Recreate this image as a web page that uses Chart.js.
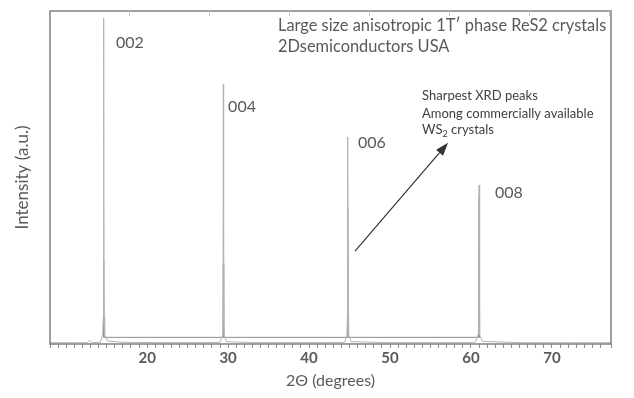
<!DOCTYPE html>
<html>
<head>
<meta charset="utf-8">
<script src="https://cdn.jsdelivr.net/npm/chart.js@4"></script>
<style>
    html, body { margin: 0; padding: 0; background: #fff; }
    #wrap { width: 634px; height: 398px; }
</style>
</head>
<body>
<div id="wrap"><canvas id="xrdChart" width="634" height="398"></canvas></div>
<script>
// XRD scan (2theta in degrees, intensity in arbitrary units 0-100)
const twoTheta = [8, 11, 12.6, 12.9, 13.2, 14.2, 14.5, 14.58, 14.63, 14.68, 14.76, 15.1, 17, 22, 27, 29.0, 29.3, 29.37, 29.41, 29.45, 29.52, 29.8, 33, 38, 42, 44.4, 44.67, 44.74, 44.78, 44.82, 44.89, 45.2, 50, 56, 60.3, 60.6, 60.89, 60.96, 61.0, 61.04, 61.11, 61.4, 66, 72, 77.3];
const intensity = [0.4, 0.4, 0.4, 1.1, 0.4, 0.5, 2.8, 8, 97.9, 8, 2.8, 0.9, 0.5, 0.4, 0.4, 0.5, 2.6, 8, 78.1, 8, 2.6, 0.7, 0.4, 0.4, 0.4, 0.5, 2.6, 8, 62.2, 8, 2.6, 0.7, 0.4, 0.4, 0.4, 0.7, 3.0, 8, 47.7, 8, 3.0, 0.8, 0.4, 0.4, 0.4];

// darker inner component of each reflection
const innerTheta = [14.58, 14.63, 14.68, 29.36, 29.41, 29.46, 44.73, 44.78, 44.83, 60.95, 61.0, 61.05];
const innerIntensity = [2, 25, 2, 2, 24, 2, 2, 41, 2, 2, 44, 2];

const xTickLabels = [20, 30, 40, 50, 60, 70];
const topTicks = [0, 1, 2, 3, 4, 5, 6];

// peak labels, placed in data units
const peakNames = ['002', '004', '006', '008'];
const peakLabelX = [16.15, 30.0, 46.05, 62.97];
const peakLabelY = [90.4, 71.2, 60.4, 45.3];

const titleLines = ['Large size anisotropic 1T\u2032 phase ReS2 crystals', '2Dsemiconductors USA'];
const noteLines = ['Sharpest XRD peaks', 'Among commercially available'];

const arrowFrom = [45.68, 27.9];
const arrowTo = [57.17, 60.4];

const FONT = 'Lato, "Open Sans", sans-serif';

const extras = {
    id: 'extras',
    afterDraw(chart) {
        const ctx = chart.ctx;
        const a = chart.chartArea;
        const x = chart.scales.x, y = chart.scales.y, top = chart.scales.x2;
        ctx.save();

        // frame
        ctx.strokeStyle = '#7f7f7f';
        ctx.lineWidth = 1.5;
        ctx.strokeRect(a.left, a.top, a.right - a.left, a.bottom - a.top);

        // small inward ticks on the top edge
        ctx.strokeStyle = '#c8c8c8';
        ctx.lineWidth = 1;
        topTicks.forEach(v => {
            const px = Math.round(top.getPixelForValue(v)) + 0.5;
            ctx.beginPath();
            ctx.moveTo(px, a.top);
            ctx.lineTo(px, a.top + 5);
            ctx.stroke();
        });

        // title
        ctx.fillStyle = '#595959';
        ctx.textBaseline = 'middle';
        ctx.textAlign = 'left';
        ctx.font = '16.4px ' + FONT;
        ctx.fillText(titleLines[0], 278, 26);
        ctx.fillText(titleLines[1], 278, 47);

        // peak labels
        ctx.font = '16px ' + FONT;
        peakNames.forEach((n, i) => {
            ctx.fillText(n, x.getPixelForValue(peakLabelX[i]), y.getPixelForValue(peakLabelY[i]));
        });

        // note
        ctx.fillStyle = '#404040';
        ctx.font = '13px ' + FONT;
        ctx.fillText(noteLines[0], 422, 96);
        ctx.fillText(noteLines[1], 422, 114);
        let tx = 422;
        ctx.fillText('WS', tx, 130);
        tx += ctx.measureText('WS').width;
        ctx.font = '9px ' + FONT;
        ctx.fillText('2', tx, 134);
        tx += ctx.measureText('2').width;
        ctx.font = '13px ' + FONT;
        ctx.fillText(' crystals', tx, 130);

        // arrow
        const x0 = x.getPixelForValue(arrowFrom[0]), y0 = y.getPixelForValue(arrowFrom[1]);
        const x1 = x.getPixelForValue(arrowTo[0]), y1 = y.getPixelForValue(arrowTo[1]);
        const ang = Math.atan2(y1 - y0, x1 - x0);
        const hl = 13, hw = 4.5;
        const bx = x1 - hl * Math.cos(ang), by = y1 - hl * Math.sin(ang);
        ctx.strokeStyle = '#333';
        ctx.fillStyle = '#333';
        ctx.lineWidth = 1.2;
        ctx.beginPath();
        ctx.moveTo(x0, y0);
        ctx.lineTo(bx, by);
        ctx.stroke();
        ctx.beginPath();
        ctx.moveTo(x1, y1);
        ctx.lineTo(bx + hw * Math.sin(ang), by - hw * Math.cos(ang));
        ctx.lineTo(bx - hw * Math.sin(ang), by + hw * Math.cos(ang));
        ctx.closePath();
        ctx.fill();

        ctx.restore();
    }
};

new Chart(document.getElementById('xrdChart').getContext('2d'), {
    type: 'line',
    data: {
        datasets: [
            {
                label: 'scan',
                data: twoTheta.map((t, i) => ({ x: t, y: intensity[i] })),
                borderColor: '#b4b4b4',
                borderWidth: 1,
                pointRadius: 0,
                tension: 0,
                fill: false
            },
            {
                label: 'inner',
                data: innerTheta.map((t, i) => ({ x: t, y: innerIntensity[i] })),
                borderColor: '#8c8c8c',
                borderWidth: 1,
                pointRadius: 0,
                tension: 0,
                fill: false
            }
        ]
    },
    options: {
        responsive: false,
        animation: false,
        layout: { padding: { top: 0, right: 23, bottom: 0, left: 0 } },
        plugins: {
            legend: { display: false },
            tooltip: { enabled: false }
        },
        scales: {
            x: {
                type: 'linear',
                position: 'bottom',
                min: 8,
                max: 77.3,
                afterFit: s => { s.height = 54; },
                border: { display: false },
                grid: { drawOnChartArea: false, tickLength: 4, color: '#8a8a8a' },
                ticks: {
                    stepSize: 1,
                    maxTicksLimit: 200,
                    autoSkip: false,
                    maxRotation: 0,
                    padding: 1,
                    color: '#595959',
                    font: { family: FONT, size: 15, weight: 'bold' },
                    callback: v => xTickLabels.includes(v) ? String(v) : ''
                },
                title: {
                    display: true,
                    text: '2\u0398 (degrees)',
                    color: '#595959',
                    font: { family: FONT, size: 16 },
                    padding: { top: 0, bottom: 8 }
                }
            },
            x2: {
                type: 'linear',
                position: 'top',
                min: -0.9875,
                max: 6.025,
                afterFit: s => { s.height = 11; },
                border: { display: false },
                grid: { display: false },
                ticks: { display: false }
            },
            y: {
                min: 0,
                max: 100,
                afterFit: s => { s.width = 50; },
                border: { display: false },
                grid: { display: false },
                ticks: { display: false },
                title: {
                    display: true,
                    text: 'Intensity (a.u.)',
                    color: '#595959',
                    font: { family: FONT, size: 17 },
                    padding: { top: 12, bottom: 0 }
                }
            }
        }
    },
    plugins: [extras]
});
</script>
</body>
</html>
